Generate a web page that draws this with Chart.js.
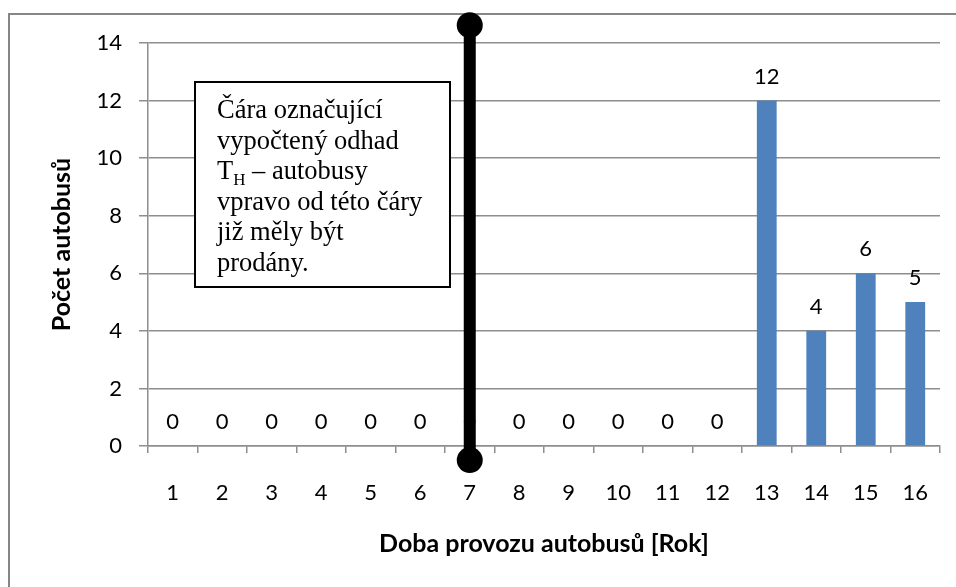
<!DOCTYPE html>
<html>
<head>
<meta charset="utf-8">
<script src="https://cdn.jsdelivr.net/npm/chart.js@4.4.1/dist/chart.umd.min.js"></script>
<style>
  html, body { margin: 0; padding: 0; background: #fff; }
  canvas { display: block; }
</style>
</head>
<body>
<canvas id="chart" width="956" height="587"></canvas>
<script>
const years = ["1", "2", "3", "4", "5", "6", "7", "8", "9", "10", "11", "12", "13", "14", "15", "16"];
const busCounts = [0, 0, 0, 0, 0, 0, 0, 0, 0, 0, 0, 0, 12, 4, 6, 5];
const yTicks = [0, 2, 4, 6, 8, 10, 12, 14];

// odhad T_H - svisla cara pres rok 7
const markerYear = "7";
const markerRange = [14.62, -0.49];

const noteLines = [
  ["Čára označující"],
  ["vypočtený odhad"],
  ["T", "H", " – autobusy"],
  ["vpravo od této čáry"],
  ["již měly být"],
  ["prodány."]
];

const gridColor = "#8e8e8e";
const sans = "Lato, 'DejaVu Sans', sans-serif";
const serif = "'Liberation Serif', 'DejaVu Serif', serif";

const frame = {
  id: "frame",
  beforeDraw(chart) {
    const ctx = chart.ctx;
    ctx.save();
    ctx.fillStyle = "#fff";
    ctx.fillRect(0, 0, chart.width, chart.height);
    ctx.strokeStyle = "#868686";
    ctx.lineWidth = 2;
    ctx.beginPath();
    ctx.moveTo(9, chart.height);
    ctx.lineTo(9, 14);
    ctx.lineTo(chart.width, 14);
    ctx.stroke();
    ctx.restore();
  }
};

const valueLabels = {
  id: "valueLabels",
  beforeDatasetsDraw(chart) {
    const ctx = chart.ctx;
    const meta = chart.getDatasetMeta(1);
    ctx.save();
    ctx.font = "22px " + sans;
    ctx.fillStyle = "#000";
    ctx.textAlign = "center";
    ctx.textBaseline = "middle";
    meta.data.forEach((bar, i) => {
      ctx.fillText(String(busCounts[i]), bar.x, bar.y - 24);
    });

    // textove pole
    const bx = 195, by = 82, bw = 255, bh = 205;
    ctx.fillStyle = "#fff";
    ctx.fillRect(bx, by, bw, bh);
    ctx.strokeStyle = "#000";
    ctx.lineWidth = 2;
    ctx.strokeRect(bx, by, bw, bh);

    ctx.fillStyle = "#000";
    ctx.textAlign = "left";
    ctx.textBaseline = "alphabetic";
    noteLines.forEach((parts, i) => {
      const y = 118 + i * 30.6;
      let x = 217;
      parts.forEach((p, j) => {
        const sub = parts.length > 1 && j === 1;
        ctx.font = (sub ? "17px " : "26.5px ") + serif;
        ctx.fillText(p, x, sub ? y + 6 : y);
        x += ctx.measureText(p).width;
      });
    });
    ctx.restore();
  },
  afterDatasetsDraw(chart) {
    // koncove body cary lezi mimo plochu grafu, Chart.js je sam nekresli
    const ctx = chart.ctx;
    ctx.save();
    ctx.fillStyle = "#000";
    chart.getDatasetMeta(0).data.forEach(pt => {
      ctx.beginPath();
      ctx.arc(pt.x, pt.y, 13, 0, Math.PI * 2);
      ctx.fill();
    });
    ctx.restore();
  }
};

new Chart(document.getElementById("chart"), {
  type: "bar",
  data: {
    labels: years,
    datasets: [
      {
        type: "line",
        data: markerRange.map(v => ({ x: markerYear, y: v })),
        borderColor: "#000",
        borderWidth: 12,
        pointRadius: 0,
        clip: false,
        order: 0
      },
      {
        type: "bar",
        data: busCounts,
        backgroundColor: "#4F81BD",
        barPercentage: 0.4,
        categoryPercentage: 1,
        order: 1
      }
    ]
  },
  options: {
    responsive: false,
    animation: false,
    layout: { padding: { top: 43, right: 16, left: 0, bottom: 0 } },
    plugins: {
      legend: { display: false },
      tooltip: { enabled: false }
    },
    scales: {
      x: {
        afterFit: s => { s.height = 141; },
        grid: {
          offset: true,
          drawOnChartArea: false,
          color: gridColor,
          lineWidth: 1.5,
          tickLength: 7
        },
        border: { color: gridColor, width: 1.5 },
        ticks: { color: "#000", font: { family: sans, size: 22 }, padding: 27 },
        title: {
          display: true,
          text: "Doba provozu autobusů [Rok]",
          color: "#000",
          font: { family: sans, size: 25, weight: "bold" },
          padding: { top: 0, bottom: 28 }
        }
      },
      y: {
        min: 0,
        max: 14,
        afterFit: s => { s.width = 148; },
        afterBuildTicks: s => { s.ticks = yTicks.map(v => ({ value: v })); },
        grid: { color: gridColor, lineWidth: 1.5, tickLength: 9 },
        border: { color: gridColor, width: 1.5 },
        ticks: { color: "#000", font: { family: sans, size: 22 }, padding: 17 },
        title: {
          display: true,
          text: "Počet autobusů",
          color: "#000",
          font: { family: sans, size: 25, weight: "bold" },
          padding: { top: 47, bottom: 0 }
        }
      }
    }
  },
  plugins: [frame, valueLabels]
});
</script>
</body>
</html>
